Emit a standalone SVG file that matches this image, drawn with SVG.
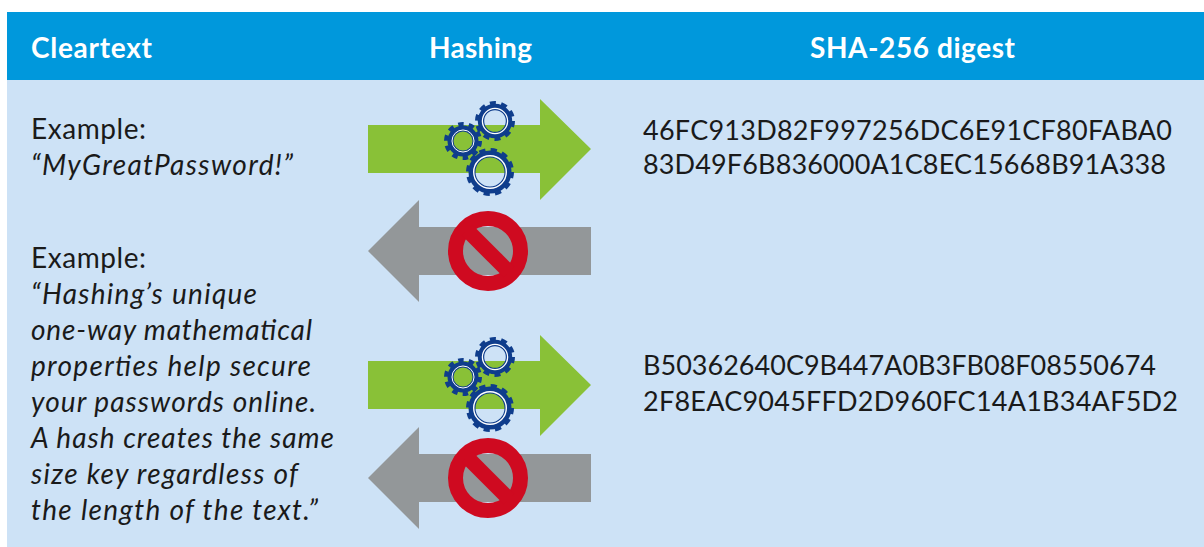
<svg xmlns="http://www.w3.org/2000/svg" xmlns:xlink="http://www.w3.org/1999/xlink" width="1204" height="547" viewBox="0 0 1204 547">
<style>
text{font-family:Lato,"Noto Sans",sans-serif;font-size:28px;fill:#1a1a1a}
.h{font-size:28px;font-weight:700;fill:#fff}
.i{font-style:italic}
.d{font-size:27px}
.tooth{fill:none;stroke:#0f3d8c}
.ring{fill:none;stroke:#fff}
.body{fill:none;stroke:#0f3d8c}
</style>
<defs>
<polygon id="green" points="368,125 540,125 540,99 591,149 540,200 540,173 368,173" fill="#89c137"/>
<polygon id="gray" points="368,251 419,200 419,227 591,227 591,275 419,275 419,302" fill="#939799"/>
<g id="gears">
<circle cx="495" cy="121" r="14" class="body" stroke-width="6.4"/>
<circle cx="495" cy="121" r="18" class="tooth" stroke-width="4" stroke-dasharray="6 5.31"/>
<circle cx="495" cy="121" r="12.6" class="ring" stroke-width="1.3"/>
<circle cx="463" cy="141" r="12.5" class="body" stroke-width="6"/>
<circle cx="463" cy="141" r="17" class="tooth" stroke-width="4" stroke-dasharray="5.5 5.18"/>
<circle cx="463" cy="141" r="11" class="ring" stroke-width="1"/>
<circle cx="490" cy="172" r="18" class="body" stroke-width="7"/>
<circle cx="490" cy="172" r="22" class="tooth" stroke-width="4" stroke-dasharray="6.2 5.32"/>
<circle cx="490" cy="172" r="16.3" class="ring" stroke-width="1.4"/>
</g>
<g id="stop">
<circle cx="488" cy="251" r="32.5" fill="none" stroke="#cf0a20" stroke-width="15"/>
<line x1="467" y1="230" x2="509" y2="272" stroke="#cf0a20" stroke-width="15"/>
</g>
</defs>
<rect id="body" x="7" y="80" width="1197" height="467" fill="#cde2f6"/>
<g id="header">
<rect x="7" y="12" width="1197" height="68" fill="#0098dc"/>
<text class="h" x="31" y="57.500" textLength="121">Cleartext</text>
<text class="h" x="429" y="57.500" textLength="103">Hashing</text>
<text class="h" x="810" y="57.500" textLength="205">SHA-256 digest</text>
</g>
<g id="connectors">
<use xlink:href="#green" href="#green"/>
<use xlink:href="#gray" href="#gray"/>
<use xlink:href="#green" href="#green" y="236"/>
<use xlink:href="#gray" href="#gray" y="227"/>
</g>
<g id="hash-1"><use xlink:href="#gears" href="#gears"/></g>
<g id="block-1"><use xlink:href="#stop" href="#stop"/></g>
<g id="hash-2"><use xlink:href="#gears" href="#gears" y="236"/></g>
<g id="block-2"><use xlink:href="#stop" href="#stop" y="227"/></g>
<g id="cleartext-1">
<text x="31" y="138.500" textLength="115">Example:</text>
<text class="i" x="31" y="174.500" textLength="262">“MyGreatPassword!”</text>
</g>
<g id="cleartext-2">
<text x="31" y="267.500" textLength="115">Example:</text>
<text class="i" x="31" y="303.500" textLength="226">“Hashing’s unique</text>
<text class="i" x="31" y="339.500" textLength="281">one-way mathematical</text>
<text class="i" x="31" y="375.500" textLength="280">properties help secure</text>
<text class="i" x="31" y="411.500" textLength="285">your passwords online.</text>
<text class="i" x="31" y="447.500" textLength="303">A hash creates the same</text>
<text class="i" x="31" y="483.500" textLength="267">size key regardless of</text>
<text class="i" x="31" y="519.500" textLength="287">the length of the text.”</text>
</g>
<g id="digest-1">
<text class="d" x="643" y="140" textLength="529">46FC913D82F997256DC6E91CF80FABA0</text>
<text class="d" x="643" y="174" textLength="523">83D49F6B836000A1C8EC15668B91A338</text>
</g>
<g id="digest-2">
<text class="d" x="643" y="375" textLength="513">B50362640C9B447A0B3FB08F08550674</text>
<text class="d" x="643" y="411" textLength="535">2F8EAC9045FFD2D960FC14A1B34AF5D2</text>
</g>
</svg>
